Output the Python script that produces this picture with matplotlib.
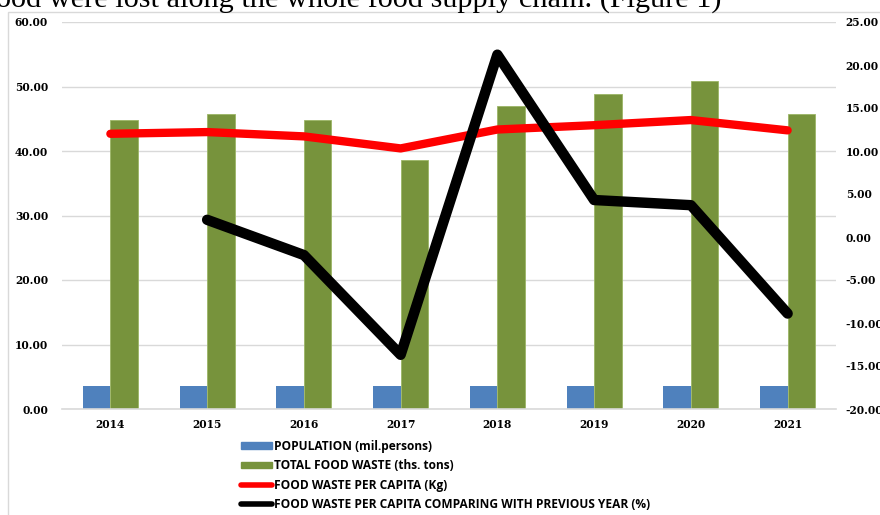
import numpy as np
import matplotlib
matplotlib.use("Agg")
import matplotlib.pyplot as plt
from matplotlib.patches import Rectangle
from matplotlib.lines import Line2D

years = ["2014", "2015", "2016", "2017", "2018", "2019", "2020", "2021"]
population = [3.6, 3.6, 3.6, 3.6, 3.6, 3.6, 3.6, 3.6]
total_waste = [44.8, 45.8, 44.8, 38.6, 46.9, 48.8, 50.9, 45.8]
waste_per_capita = [12.0, 12.2, 11.7, 10.3, 12.5, 13.0, 13.6, 12.4]
change_prev_year = [np.nan, 2.0, -2.1, -13.7, 21.2, 4.3, 3.7, -8.9]

left_ticks = [0, 10, 20, 30, 40, 50, 60]
right_ticks = [-20, -15, -10, -5, 0, 5, 10, 15, 20, 25]

c_blue = "#4F81BD"
c_green = "#77933C"
c_red = "#FF0000"
c_grid = "#D9D9D9"
serif_bold = dict(family="DejaVu Serif", weight="bold", size=7.7)

fig = plt.figure(figsize=(8.8, 5.15), dpi=100)

# cut-off line of document text above the chart
fig.text(-0.004, 1 - 8 / 515, "ood were lost along the whole food supply chain. (Figure 1)",
         family="Liberation Serif", fontsize=21.8, va="baseline", ha="left")

# chart frame
fig.patches.append(Rectangle((8 / 880, -0.1), 1.2, 1 - 12 / 515 + 0.1,
                             transform=fig.transFigure, fill=False,
                             edgecolor="#D9D9D9", linewidth=1.0))

ax = fig.add_axes([62 / 880, 1 - 409 / 515, (836 - 62) / 880, (409 - 22) / 515])
x = np.arange(len(years))
w = 0.283
ax.bar(x - w / 2, population, width=w, color=c_blue, zorder=2)
ax.bar(x + w / 2, total_waste, width=w, color=c_green, edgecolor="#9BB565",
       linewidth=0.6, zorder=2)

ax.set_xlim(-0.5, len(years) - 0.5)
ax.set_ylim(0, 60)
ax.set_yticks(left_ticks)
ax.set_yticklabels([f"{v:.2f}" for v in left_ticks], fontdict=serif_bold)
ax.set_xticks(x)
ax.set_xticklabels(years, fontdict=serif_bold)
ax.tick_params(length=0, pad=10)
ax.tick_params(axis="x", pad=7)
ax.grid(axis="y", color=c_grid, linewidth=1.0, zorder=0)
ax.set_axisbelow(True)
for s in ["top", "right", "left"]:
    ax.spines[s].set_visible(False)
ax.spines["bottom"].set_color(c_grid)
ax.spines["bottom"].set_linewidth(1.2)

ax2 = ax.twinx()
ax2.plot(x, waste_per_capita, color=c_red, linewidth=6, solid_capstyle="round",
         solid_joinstyle="round", zorder=3)
ax2.plot(x, change_prev_year, color="black", linewidth=7.5, solid_capstyle="round",
         solid_joinstyle="round", zorder=4)
ax2.set_ylim(-20, 25)
ax2.set_yticks(right_ticks)
ax2.set_yticklabels([f"{v:.2f}" for v in right_ticks], fontdict=serif_bold)
ax2.tick_params(length=0, pad=7)
for s in ax2.spines.values():
    s.set_visible(False)

handles = [
    Rectangle((0, 0), 1, 1, color=c_blue),
    Rectangle((0, 0), 1, 1, color=c_green),
    Line2D([], [], color=c_red, linewidth=4, solid_capstyle="round"),
    Line2D([], [], color="black", linewidth=4, solid_capstyle="round"),
]
labels = [
    "POPULATION (mil.persons)",
    "TOTAL FOOD WASTE (ths. tons)",
    "FOOD WASTE PER CAPITA (Kg)",
    "FOOD WASTE PER CAPITA COMPARING WITH PREVIOUS YEAR (%)",
]
fig.legend(handles, labels, loc="upper left", bbox_to_anchor=(241 / 880, 1 - 440 / 515),
           frameon=False, prop=dict(family="Open Sans", weight="bold", size=8.6),
           handlelength=2.6, handleheight=0.5, handletextpad=0.15, labelspacing=0.53,
           borderpad=0, borderaxespad=0)

fig.savefig("out.png", dpi=100)
